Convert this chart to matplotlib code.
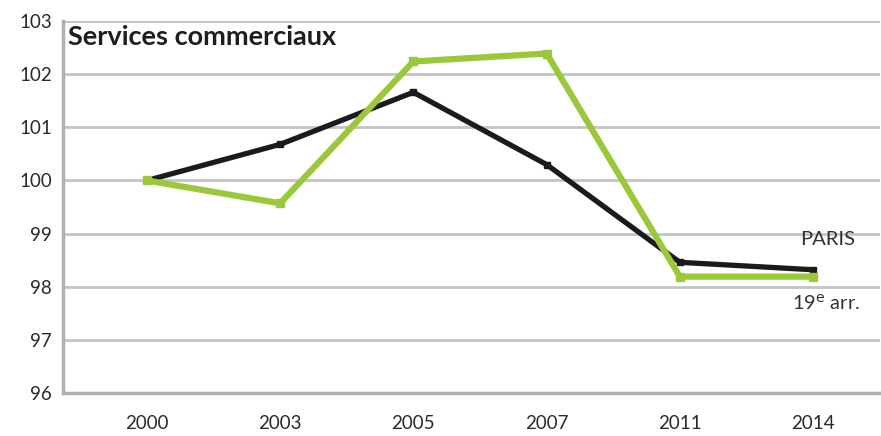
import matplotlib
matplotlib.use("Agg")
import matplotlib.pyplot as plt

plt.rcParams['font.family'] = ['Lato', 'DejaVu Sans']

years = ['2000', '2003', '2005', '2007', '2011', '2014']
paris = [100.0, 100.68, 101.66, 100.3, 98.46, 98.32]
arr19 = [100.0, 99.57, 102.24, 102.39, 98.19, 98.19]
yticks = [96, 97, 98, 99, 100, 101, 102, 103]

fig = plt.figure(figsize=(8.81, 4.36), dpi=100)
ax = fig.add_axes([0.0715, 0.0986, 0.927, 0.853])

x = list(range(len(years)))
ax.plot(x, paris, color='#1b1b1b', lw=3.8, marker='s', ms=5, zorder=3)
ax.plot(x, arr19, color='#9bc83b', lw=4.5, marker='s', ms=6, zorder=4)

ax.set_xlim(-0.63, 5.5)
ax.set_ylim(96, 103)
ax.set_yticks(yticks)
ax.set_xticks(x)
ax.set_xticklabels(years)
ax.grid(axis='y', color='#c4c4c4', lw=2)
ax.set_axisbelow(True)
for s in ['top', 'right']:
    ax.spines[s].set_visible(False)
for s in ['left', 'bottom']:
    ax.spines[s].set_color('#b0b0b0')
    ax.spines[s].set_linewidth(2.5)
ax.tick_params(axis='both', length=0, labelsize=13.5, colors='#2a2a2a')
ax.tick_params(axis='x', pad=16)
ax.tick_params(axis='y', pad=8)

ax.text(0.006, 0.99, 'Services commerciaux', transform=ax.transAxes,
        fontsize=19.5, fontweight='bold', color='#1e1e1e', va='top', ha='left')
ax.text(5.11, 98.72, 'PARIS', fontsize=14.5, color='#333333', ha='center', va='bottom')
ax.text(5.1, 97.7, r'19$^{\mathrm{e}}$ arr.', fontsize=14.5, color='#333333', ha='center', va='center')

fig.savefig('out.png', dpi=100)
